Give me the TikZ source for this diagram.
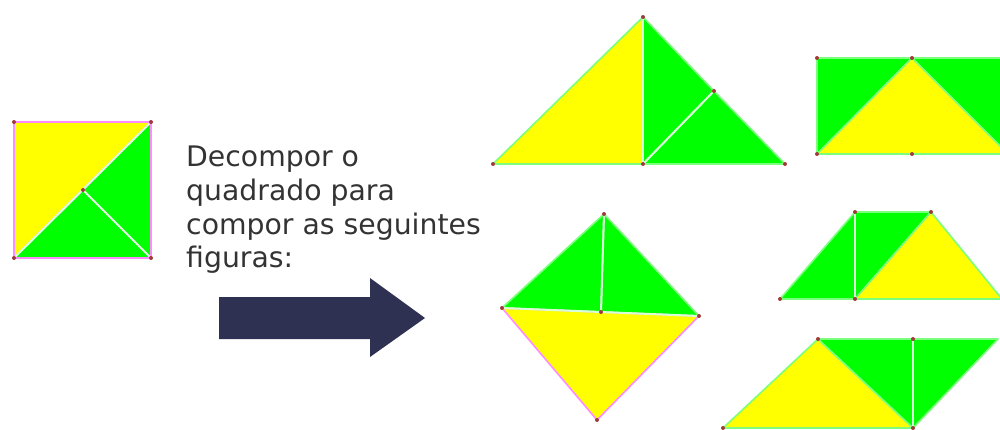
\documentclass[tikz,border=0pt]{standalone}
\usepackage{fontspec}
\setmainfont{DejaVu Sans}
\definecolor{yel}{HTML}{FFFF00}
\definecolor{grn}{HTML}{00FF00}
\definecolor{edgeg}{HTML}{7CFF7C}
\definecolor{edgep}{HTML}{FF8CFF}
\definecolor{cut}{HTML}{D8FFD8}
\definecolor{dotc}{HTML}{A03A3A}
\definecolor{navy}{HTML}{2E3152}
\definecolor{txt}{HTML}{333333}
\begin{document}
\begin{tikzpicture}[x=1pt,y=-1pt,
  piece/.style={line width=1.6pt,line join=round},
  ypiece/.style={piece,fill=yel,draw=#1},
  gpiece/.style={piece,fill=grn,draw=#1},
  cutline/.style={draw=cut,line width=2pt},
  vdot/.style={circle,fill=dotc,inner sep=0pt,minimum size=4pt},
  lbl/.style={anchor=base west,text=txt,font=\fontsize{28.3}{33}\selectfont,inner sep=0pt}]
\useasboundingbox (0,0) rectangle (1000,430);
% ---- square ----
\coordinate (sTL) at (14,122); \coordinate (sTR) at (151,122);
\coordinate (sBL) at (14,258); \coordinate (sBR) at (151,258);
\coordinate (sC) at (83,190);
\path[ypiece=edgep] (sTL) -- (sTR) -- (sBL) -- cycle;
\path[gpiece=edgep] (sTR) -- (sBR) -- (sC) -- cycle;
\path[gpiece=edgep] (sBL) -- (sBR) -- (sC) -- cycle;
\draw[cutline] (sBL) -- (sTR);
\draw[cutline] (sC) -- (sBR);
\draw[edgep,line width=1.6pt] (sTL) rectangle (sBR);
\foreach \p in {sTL,sTR,sBL,sBR,sC} \node[vdot] at (\p) {};
% ---- big triangle ----
\coordinate (tA) at (643,17); \coordinate (tL) at (493,164);
\coordinate (tM) at (643,164); \coordinate (tR) at (785,164);
\coordinate (tP) at (714,91);
\path[ypiece=edgeg] (tL) -- (tA) -- (tM) -- cycle;
\path[gpiece=edgeg] (tA) -- (tP) -- (tM) -- cycle;
\path[gpiece=edgeg] (tP) -- (tR) -- (tM) -- cycle;
\draw[cutline] (tA) -- (tM);
\draw[cutline] (tP) -- (tM);
\foreach \p in {tA,tL,tM,tR,tP} \node[vdot] at (\p) {};
% ---- rectangle ----
\coordinate (rTL) at (817,58); \coordinate (rTM) at (912,58);
\coordinate (rTR) at (1008,58); \coordinate (rBL) at (817,154);
\coordinate (rBM) at (912,154); \coordinate (rBR) at (1008,154);
\path[gpiece=edgeg] (rTL) -- (rTM) -- (rBL) -- cycle;
\path[gpiece=edgeg] (rTM) -- (rTR) -- (rBR) -- cycle;
\path[ypiece=edgeg] (rBL) -- (rTM) -- (rBR) -- cycle;
\foreach \p in {rTL,rTM,rBL,rBM} \node[vdot] at (\p) {};
% ---- diamond ----
\coordinate (dT) at (604,214); \coordinate (dL) at (502,308);
\coordinate (dR) at (699,316); \coordinate (dB) at (597,420);
\coordinate (dC) at (601,312);
\path[gpiece=edgeg] (dT) -- (dC) -- (dL) -- cycle;
\path[gpiece=edgeg] (dT) -- (dR) -- (dC) -- cycle;
\path[ypiece=edgep] (dL) -- (dR) -- (dB) -- cycle;
\draw[cutline] (dT) -- (dC);
\draw[cutline] (dL) -- (dR);
\foreach \p in {dT,dL,dR,dB,dC} \node[vdot] at (\p) {};
% ---- trapezoid ----
\coordinate (zTL) at (855,212); \coordinate (zTR) at (931,212);
\coordinate (zBL) at (780,299); \coordinate (zBM) at (855,299);
\coordinate (zBR) at (1002,299);
\path[gpiece=edgeg] (zBL) -- (zTL) -- (zBM) -- cycle;
\path[gpiece=edgeg] (zTL) -- (zTR) -- (zBM) -- cycle;
\path[ypiece=edgeg] (zBM) -- (zTR) -- (zBR) -- cycle;
\draw[cutline] (zTL) -- (zBM);
\foreach \p in {zTL,zTR,zBL,zBM,zBR} \node[vdot] at (\p) {};
% ---- parallelogram ----
\coordinate (pTL) at (818,339); \coordinate (pTM) at (913,339);
\coordinate (pTR) at (998,339); \coordinate (pBL) at (723,428);
\coordinate (pBM) at (913,428);
\path[ypiece=edgeg] (pBL) -- (pTL) -- (pBM) -- cycle;
\path[gpiece=edgeg] (pTL) -- (pTM) -- (pBM) -- cycle;
\path[gpiece=edgeg] (pTM) -- (pTR) -- (pBM) -- cycle;
\draw[cutline] (pTM) -- (pBM);
\foreach \p in {pTL,pTM,pBL,pBM} \node[vdot] at (\p) {};
% ---- text ----
\node[lbl] (l1) at (186,167) {Decompor o};
\node[lbl] (l2) at (186,200.5) {quadrado para};
\node[lbl] (l3) at (186,234) {compor as seguintes};
\node[lbl] (l4) at (186,267.5) {figuras:};
% ---- arrow ----
\fill[navy] (219,297) -- (370,297) -- (370,278) -- (425,318) -- (370,357) -- (370,339) -- (219,339) -- cycle;
\end{tikzpicture}
\end{document}
